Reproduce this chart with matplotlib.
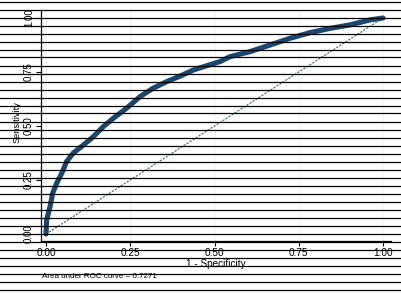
"""ROC curve, Stata-like look"""

import matplotlib
matplotlib.use('Agg')
import matplotlib.pyplot as plt
from matplotlib.lines import Line2D

plt.rcParams['font.family'] = ['Liberation Sans', 'DejaVu Sans']

# ROC curve points
fpr = [0.0, 0.002, 0.012, 0.020, 0.032, 0.047, 0.061, 0.081, 0.111, 0.140,
       0.170, 0.200, 0.239, 0.279, 0.318, 0.358, 0.398, 0.437, 0.477, 0.516,
       0.546, 0.605, 0.665, 0.724, 0.783, 0.843, 0.902, 0.961, 1.0]
tpr = [0.0, 0.065, 0.126, 0.190, 0.236, 0.282, 0.335, 0.375, 0.412, 0.450,
       0.497, 0.536, 0.582, 0.636, 0.675, 0.705, 0.731, 0.759, 0.779, 0.798,
       0.821, 0.844, 0.875, 0.906, 0.932, 0.952, 0.968, 0.991, 1.0]
ticks = [0.0, 0.25, 0.5, 0.75, 1.0]
tick_labels = ['0.00', '0.25', '0.50', '0.75', '1.00']
auc_text = 'Area under ROC curve = 0.7271'

W, H = 402, 294
fig = plt.figure(figsize=(W / 100, H / 100), dpi=100, facecolor='white')
ax = fig.add_axes([41 / W, (H - 241) / H, 350 / W, 231 / H])
ax.set_facecolor('white')

ax.plot(fpr, tpr, color='#1a476f', lw=3.7, solid_capstyle='round',
        solid_joinstyle='round', zorder=3)
ax.plot([0, 1], [0, 1], color='#2e6f64', lw=0.8, ls=(0, (2, 1.2)), zorder=2)

ax.set_xlim(-0.0148, 1.0237)
ax.set_ylim(-0.0324, 1.037)
ax.set_xticks(ticks)
ax.set_xticklabels(tick_labels, fontsize=7.2)
ax.set_yticks(ticks)
ax.set_yticklabels(tick_labels, fontsize=7.0, rotation=90, va='center')
ax.tick_params(axis='both', length=3.6, width=0.8, color='black', pad=1.5)
ax.grid(axis='x', color='#eef3f4', lw=0.8)
for s in ['top', 'right']:
    ax.spines[s].set_visible(False)
ax.spines['left'].set_linewidth(0.9)
ax.spines['bottom'].set_linewidth(0.9)

ax.set_xlabel('1 - Specificity', fontsize=7.2, labelpad=1)
fig.text(17 / W, 1 - 122 / H, 'Sensitivity', rotation=90, fontsize=6.6,
         ha='center', va='center')
fig.text(42 / W, 1 - 277 / H, auc_text, fontsize=5.8, ha='left', va='center')

# horizontal black rules across the whole picture
for k in range(37):
    y = 1 - (1.5 + 8 * k) / H
    fig.add_artist(Line2D([0, 1], [y, y], transform=fig.transFigure,
                          color='black', lw=0.9, zorder=5))

fig.savefig('out.png', dpi=100, facecolor='white')
